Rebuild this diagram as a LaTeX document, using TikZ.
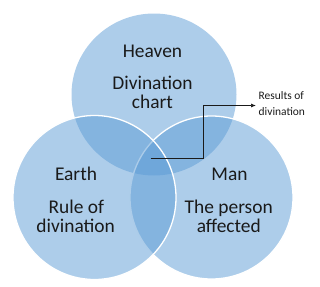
\documentclass[tikz,border=0pt]{standalone}
\usepackage{fontspec}
\setmainfont{Carlito}
\usetikzlibrary{arrows.meta}
\definecolor{vennblue}{HTML}{5B9BD5}
\definecolor{txt}{HTML}{1A1A1A}
\begin{document}
\begin{tikzpicture}[x=1bp,y=-1bp,
  bigtext/.style={text=txt,font=\fontsize{19.5}{21}\selectfont,inner sep=0pt,anchor=base},
  smalltext/.style={text=txt,font=\fontsize{11.5}{15.5}\selectfont,inner sep=0pt,anchor=base west},
  conn/.style={draw=txt,line width=0.7bp}]
\useasboundingbox (0,0) rectangle (320,287);
% circles
\fill[vennblue,fill opacity=0.5] (154,94.5) ellipse [x radius=82.5,y radius=81];
\filldraw[fill=vennblue,fill opacity=0.5,draw=white,line width=1.3bp] (211.5,197.5) ellipse [x radius=81.5,y radius=81.5];
\filldraw[fill=vennblue,fill opacity=0.5,draw=white,line width=1.3bp] (94.5,197.5) ellipse [x radius=81.5,y radius=82];
% texts
\node[bigtext] (heaven) at (152.5,57.7) {Heaven};
\node[bigtext] (hchartA) at (152.5,89.3) {Divination};
\node[bigtext] (hchartB) at (152.5,108.3) {chart};
\node[bigtext] (earth) at (76,180.7) {Earth};
\node[bigtext] (eruleA) at (76.3,213.3) {Rule of};
\node[bigtext] (eruleB) at (75.7,232.7) {divination};
\node[bigtext] (man) at (229.5,180.7) {Man};
\node[bigtext] (mpersonA) at (228.7,213.3) {The person};
\node[bigtext] (mpersonB) at (228.8,232.7) {affected};
\node[smalltext] (resultA) at (258.5,99.3) {Results of};
\node[smalltext] (resultB) at (258.5,115) {divination};
\coordinate (center) at (150.7,158.3);
\coordinate (tip) at (256,105.5);
\draw[conn,-{Latex[length=5bp,width=4bp]}] (center) -- (203.5,158.3) |- (tip);
\end{tikzpicture}
\end{document}
